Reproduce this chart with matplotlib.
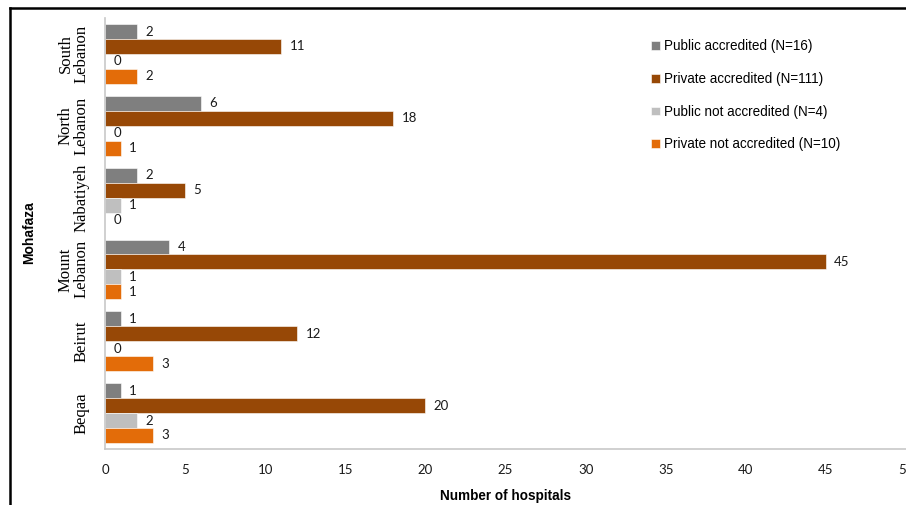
import numpy as np
import matplotlib.pyplot as plt
from matplotlib.lines import Line2D

regions = ["South\nLebanon", "North\nLebanon", "Nabatiyeh", "Mount\nLebanon", "Beirut", "Beqaa"]
public_accr = [2, 6, 2, 4, 1, 1]
private_accr = [11, 18, 5, 45, 12, 20]
public_not = [0, 0, 1, 1, 0, 2]
private_not = [2, 1, 0, 1, 3, 3]

series_names = ["Public accredited (N=16)", "Private accredited (N=111)",
                "Public not accredited (N=4)", "Private not accredited (N=10)"]
colors = ["#7f7f7f", "#974806", "#bfbfbf", "#e36c09"]
x_ticks = [0, 5, 10, 15, 20, 25, 30, 35, 40, 45, 50]

fig = plt.figure(figsize=(9.06, 5.05), dpi=100)
ax = fig.add_axes([105 / 906, 1 - 449 / 505, 1 - 105 / 906, (449 - 18) / 505])

y = np.arange(len(regions))
h = 0.208
series = [public_accr, private_accr, public_not, private_not]
for k, (vals, col, name) in enumerate(zip(series, colors, series_names)):
    pos = y - 1.5 * h + k * h
    bars = ax.barh(pos, vals, height=h, color=col, label=name,
                   edgecolor="white", linewidth=0.4)
    ax.bar_label(bars, labels=[str(v) for v in vals], padding=6,
                 fontsize=9.5, family="Lato", color="#1a1a1a")

ax.set_ylim(len(regions) - 0.5, -0.5)
ax.set_xlim(0, 50)
ax.set_xticks(x_ticks)
ax.set_xticklabels([str(t) for t in x_ticks], family="Lato", fontsize=9.5, color="#1a1a1a")
ax.tick_params(axis="x", length=0, pad=11)
ax.set_yticks(y)
ax.set_yticklabels(regions, rotation=90, va="center", ha="right",
                   family="Liberation Serif", fontsize=12, multialignment="center",
                   linespacing=1.0)
ax.tick_params(axis="y", length=0, pad=11)

for s in ["top", "right"]:
    ax.spines[s].set_visible(False)
for s in ["left", "bottom"]:
    ax.spines[s].set_color("#c8c8c8")
    ax.spines[s].set_linewidth(1.2)

ax.set_xlabel("Number of hospitals", family="Liberation Sans", fontsize=9.75,
              fontweight="bold", labelpad=9)
fig.text(29 / 906, 1 - 233 / 505, "Mohafaza", rotation=90, family="Liberation Sans",
         fontsize=10, fontweight="bold", ha="center", va="center")

ax.legend(loc="upper left", bbox_to_anchor=(646 / 906, 1 - 34 / 505),
          bbox_transform=fig.transFigure, frameon=False,
          prop={"family": "Liberation Sans", "size": 9.75},
          handlelength=0.6, handleheight=0.6, handletextpad=0.3,
          labelspacing=1.38, borderaxespad=0)

# outer frame (top and left edges)
fig.add_artist(Line2D([10 / 906, 1.0], [1 - 8 / 505, 1 - 8 / 505],
                      transform=fig.transFigure, color="black", lw=1.8))
fig.add_artist(Line2D([10 / 906, 10 / 906], [0, 1 - 8 / 505],
                      transform=fig.transFigure, color="black", lw=1.8))

fig.savefig("out.png", dpi=100)
